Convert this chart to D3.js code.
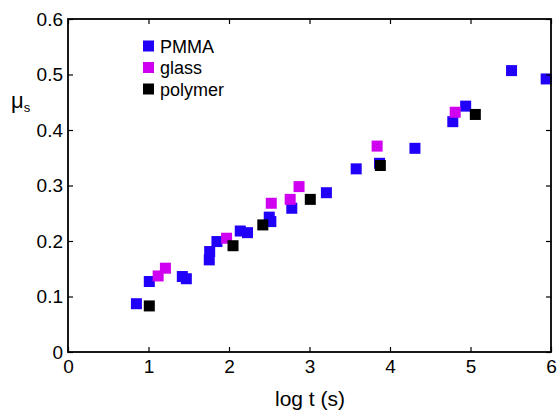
<!DOCTYPE html>
<html><head><meta charset="utf-8">
<script src="https://cdn.jsdelivr.net/npm/d3@7"></script>
<style>body{margin:0;background:#fff}svg{display:block;font-family:Arial,"Liberation Sans",sans-serif}</style>
</head><body><svg id="c" width="558" height="412"></svg>
<script>
const xTicks = [0,1,2,3,4,5,6];
const yTicks = [0,0.1,0.2,0.3,0.4,0.5,0.6];
const yTickLabels = ["0","0.1","0.2","0.3","0.4","0.5","0.6"];
const seriesNames = ["PMMA","glass","polymer"];
const seriesColors = ["#2000f8","#d000f0","#000000"];
const pmmaX = [0.85,1.01,1.42,1.47,1.755,1.76,1.85,2.14,2.23,2.50,2.52,2.78,3.21,3.58,3.87,4.31,4.78,4.94,5.51,5.94];
const pmmaY = [0.087,0.127,0.136,0.132,0.166,0.181,0.199,0.218,0.215,0.243,0.235,0.259,0.287,0.330,0.340,0.367,0.415,0.443,0.507,0.492];
const glassX = [1.12,1.21,1.97,2.525,2.76,2.87,3.84,4.81];
const glassY = [0.137,0.151,0.205,0.268,0.275,0.298,0.371,0.432];
const polyX = [1.01,2.05,2.42,3.01,3.88,5.06];
const polyY = [0.083,0.1915,0.229,0.275,0.336,0.428];

const svg = d3.select("#c");
const L=68,R=551,T=19,B=352;
const x = d3.scaleLinear().domain([0,6]).range([L,R]);
const y = d3.scaleLinear().domain([0,0.6]).range([B,T]);
const tl = 5;

const series = [
  {name:seriesNames[0], color:seriesColors[0], xs:pmmaX, ys:pmmaY},
  {name:seriesNames[1], color:seriesColors[1], xs:glassX, ys:glassY},
  {name:seriesNames[2], color:seriesColors[2], xs:polyX, ys:polyY}
];
const S = 11;
series.forEach(s=>{
  svg.append("g").selectAll("rect").data(s.xs.map((v,i)=>[v,s.ys[i]])).join("rect")
    .attr("x",d=>x(d[0])-S/2).attr("y",d=>y(d[1])-S/2)
    .attr("width",S).attr("height",S).attr("fill",s.color);
});

// axes (ticks inward)
const axB = d3.axisBottom(x).tickValues(xTicks).tickSizeInner(-tl).tickSizeOuter(0).tickPadding(8).tickFormat(d3.format("d"));
const axT = d3.axisTop(x).tickValues(xTicks).tickSizeInner(-tl).tickSizeOuter(0).tickFormat("");
const axL = d3.axisLeft(y).tickValues(yTicks).tickSizeInner(-tl).tickSizeOuter(0).tickPadding(5).tickFormat((d,i)=>yTickLabels[i]);
const axR = d3.axisRight(y).tickValues(yTicks).tickSizeInner(-tl).tickSizeOuter(0).tickFormat("");
function style(g){g.selectAll("path").remove();g.selectAll("line").attr("stroke","#000").attr("stroke-width",1.2);g.selectAll("text").attr("font-size",19).attr("fill","#000").attr("font-family","Arial,'Liberation Sans',sans-serif");}
svg.append("g").attr("transform",`translate(0,${B})`).call(axB).call(style);
svg.append("g").attr("transform",`translate(0,${T})`).call(axT).call(style);
svg.append("g").attr("transform",`translate(${L},0)`).call(axL).call(style);
svg.append("g").attr("transform",`translate(${R},0)`).call(axR).call(style);
svg.append("rect").attr("x",L).attr("y",T).attr("width",R-L).attr("height",B-T)
  .attr("fill","none").attr("stroke","#000").attr("stroke-width",1.8);

// labels
svg.append("text").attr("x",310).attr("y",406).attr("text-anchor","middle")
  .attr("font-size",21).text("log t (s)");
const yl = svg.append("text").attr("x",11).attr("y",108).attr("font-size",22);
yl.append("tspan").text("μ");
yl.append("tspan").attr("font-size",13).attr("dy",4).text("s");

// legend
const lg = svg.append("g");
series.forEach((s,i)=>{
  const cy = 46 + i*21.5;
  lg.append("rect").attr("x",143).attr("y",cy-5.5).attr("width",11).attr("height",11).attr("fill",s.color);
  lg.append("text").attr("x",160).attr("y",cy+6.5).attr("font-size",18).text(s.name);
});
</script></body></html>
